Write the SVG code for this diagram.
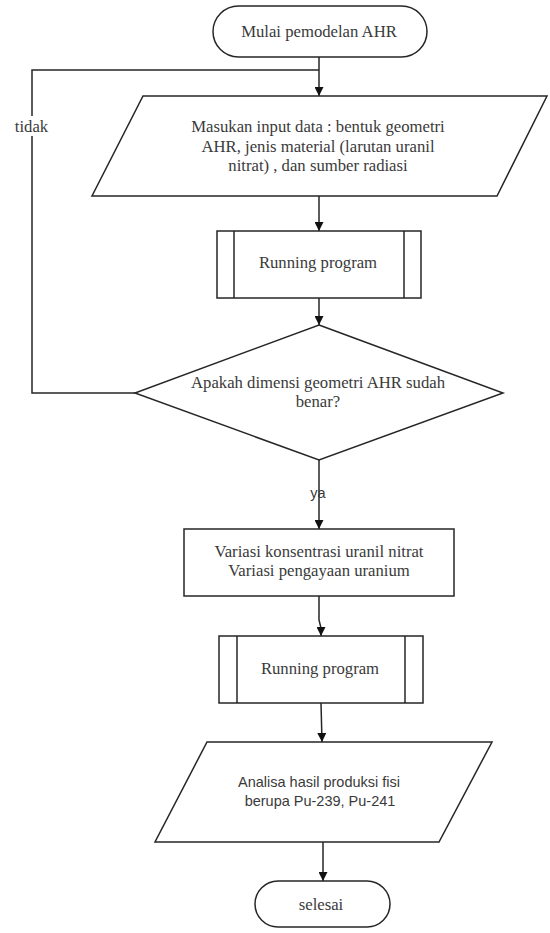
<svg xmlns="http://www.w3.org/2000/svg" width="550" height="933" viewBox="0 0 550 933">
  <style>
    .shape { fill: #ffffff; stroke: #262626; stroke-width: 1.5; }
    .line { fill: none; stroke: #262626; stroke-width: 1.5; }
    .serif { font-family: "Liberation Serif", "Times New Roman", serif; font-size: 16.7px; fill: #3a3a3a; text-anchor: middle; }
    .sans { font-family: "Liberation Sans", Arial, sans-serif; font-size: 14.5px; fill: #3a3a3a; text-anchor: middle; }
  </style>
  <defs>
    <marker id="arrow" viewBox="0 0 10 10" refX="10" refY="5" markerWidth="9" markerHeight="9" markerUnits="userSpaceOnUse" orient="auto">
      <path d="M0,0 L10,5 L0,10 Z" fill="#111111"/>
    </marker>
  </defs>
  <rect width="550" height="933" fill="#ffffff"/>

  <!-- connectors -->
  <g id="connectors">
    <line class="line" x1="319" y1="57" x2="319" y2="96" marker-end="url(#arrow)"/>
    <polyline class="line" points="135,393 32,393 32,70 319,70"/>
    <line class="line" x1="319" y1="196" x2="319" y2="231" marker-end="url(#arrow)"/>
    <line class="line" x1="319" y1="298" x2="319" y2="325" marker-end="url(#arrow)"/>
    <line class="line" x1="319" y1="460" x2="319" y2="529" marker-end="url(#arrow)"/>
    <polyline class="line" points="319,596 319,620 321,628 321,636" marker-end="url(#arrow)"/>
    <line class="line" x1="321" y1="703" x2="322" y2="742" marker-end="url(#arrow)"/>
    <line class="line" x1="323" y1="842" x2="323" y2="881" marker-end="url(#arrow)"/>
    <!-- loop-back label -->
    <rect x="12" y="116" width="38" height="20" fill="#ffffff"/>
    <text class="serif" x="31.5" y="132">tidak</text>
    <text class="sans" x="318" y="498">ya</text>
  </g>

  <g id="start">
    <rect class="shape" x="213" y="6" width="214" height="51" rx="25.5"/>
    <text class="serif" x="319" y="37">Mulai pemodelan AHR</text>
  </g>

  <g id="input-data">
    <polygon class="shape" points="143,96 547,96 497,196 92,196"/>
    <text class="serif" x="318" y="132">Masukan input data : bentuk geometri</text>
    <text class="serif" x="318" y="151.5">AHR, jenis material (larutan uranil</text>
    <text class="serif" x="318" y="171">nitrat) , dan sumber radiasi</text>
  </g>

  <g id="running-1">
    <rect class="shape" x="217" y="231" width="204" height="67"/>
    <line class="line" x1="234" y1="231" x2="234" y2="298"/>
    <line class="line" x1="404" y1="231" x2="404" y2="298"/>
    <text class="serif" x="318" y="268">Running program</text>
  </g>

  <g id="decision">
    <polygon class="shape" points="319,325 503,393 319,460 135,393"/>
    <text class="serif" x="318" y="388">Apakah dimensi geometri AHR sudah</text>
    <text class="serif" x="318" y="407">benar?</text>
  </g>

  <g id="variasi">
    <rect class="shape" x="184" y="529" width="270" height="67"/>
    <text class="serif" x="319" y="557">Variasi konsentrasi uranil nitrat</text>
    <text class="serif" x="319" y="576">Variasi pengayaan uranium</text>
  </g>

  <g id="running-2">
    <rect class="shape" x="219" y="636" width="204" height="67"/>
    <line class="line" x1="237" y1="636" x2="237" y2="703"/>
    <line class="line" x1="405" y1="636" x2="405" y2="703"/>
    <text class="serif" x="320" y="674">Running program</text>
  </g>

  <g id="analisa">
    <polygon class="shape" points="207,742 492,742 439,842 155,842"/>
    <text class="sans" x="319" y="787">Analisa hasil produksi fisi</text>
    <text class="sans" x="320" y="806">berupa Pu-239, Pu-241</text>
  </g>

  <g id="end">
    <rect class="shape" x="255" y="881" width="135" height="46" rx="23"/>
    <text class="serif" x="321" y="910">selesai</text>
  </g>
</svg>
